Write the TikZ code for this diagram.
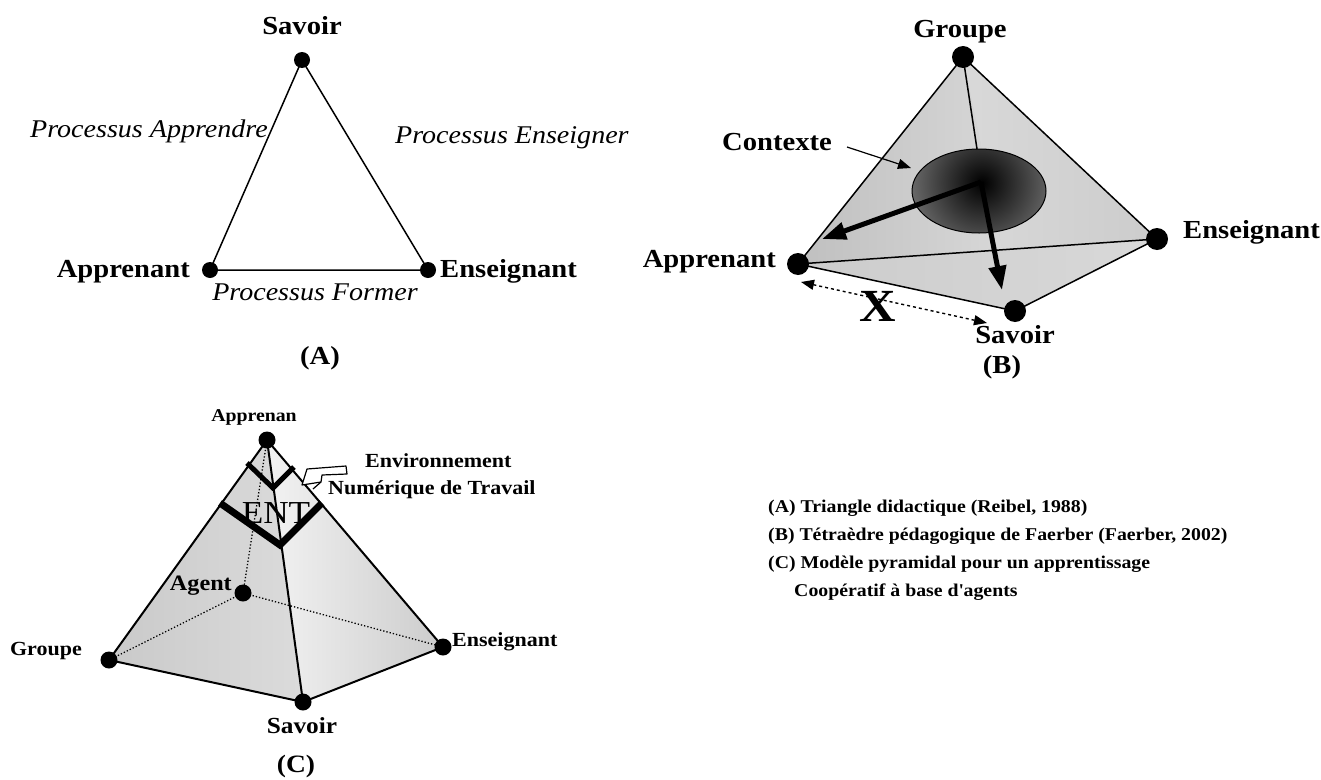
\documentclass[tikz,border=0pt]{standalone}
\usepackage{fontspec}
\setmainfont{Liberation Serif}[FakeStretch=1.1]
\usetikzlibrary{arrows.meta,calc}
\begin{document}
\begin{tikzpicture}[x=1pt,y=-1pt,
  dotA/.style={circle,fill=black,inner sep=0pt,minimum size=16pt},
  dotB/.style={circle,fill=black,inner sep=0pt,minimum size=22pt},
  dotC/.style={circle,fill=black,inner sep=0pt,minimum size=17pt},
  lblA/.style={font=\fontsize{26}{32}\selectfont\bfseries,inner sep=0pt},
  itl/.style={font=\fontsize{25.5}{32}\selectfont\itshape,inner sep=0pt},
  lblC/.style={font=\fontsize{20}{24}\selectfont\bfseries,inner sep=0pt},
  legendtext/.style={font=\fontsize{18}{24}\selectfont\bfseries,inner sep=0pt,anchor=base west},
  edge/.style={line width=1.5pt,line join=round},
  thickarrow/.style={line width=5pt,-{Triangle[length=24pt,width=17pt]}},
]
\useasboundingbox (0,0) rectangle (1321,779);

%%%%%%%%%%%%%%%% (A)
\coordinate (AS) at (302,60);
\coordinate (AA) at (210,270);
\coordinate (AE) at (428,270);
\draw[edge] (AS) -- (AA) -- (AE) -- cycle;
\node[dotA] (aS) at (AS) {};
\node[dotA] (aA) at (AA) {};
\node[dotA] (aE) at (AE) {};
\node[lblA,anchor=base] (aSl) at (302,34) {Savoir};
\node[lblA,anchor=base east] (aAl) at (190,277) {Apprenant};
\node[lblA,anchor=base west] (aEl) at (440,277) {Enseignant};
\node[itl,anchor=base east] (p1) at (268,137) {Processus Apprendre};
\node[itl,anchor=base west] (p2) at (395,143) {Processus Enseigner};
\node[itl,anchor=base] (p3) at (315,300) {Processus Former};
\node[lblA,anchor=base] (capA) at (320,364) {(A)};

%%%%%%%%%%%%%%%% (B)
\coordinate (BG) at (963,57);
\coordinate (BE) at (1157,239);
\coordinate (BA) at (798,264);
\coordinate (BS) at (1015,311);
\fill[gray!35] (BG) -- (BE) -- (BS) -- (BA) -- cycle;
\shade[left color=gray!50,middle color=white!92!gray,right color=gray!30] (BG) -- (BA) -- (BS) -- cycle;
\shade[left color=gray!30,middle color=white!95!gray,right color=gray!40] (BG) -- (BS) -- (BE) -- cycle;
\shade[left color=gray!40,right color=gray!30] (BA) -- (BS) -- (BE) -- cycle;
% context ellipse
\begin{scope}
\clip (979,191) ellipse [x radius=67,y radius=42];
\shade[inner color=black,outer color=black!48] (982,183) circle [radius=90];
\end{scope}
\draw[line width=1pt] (979,191) ellipse [x radius=67,y radius=42];
\coordinate (Etop) at (977,149);
\coordinate (Ctr) at (981,182);
\draw[edge] (BG) -- (Etop);
\draw[edge] (BG) -- (BA) -- (BS) -- (BE) -- cycle;
\draw[edge] (BA) -- (BE);
\coordinate (tipA) at (822,239);
\coordinate (tipS) at (1002,290);
\draw[thickarrow] (Ctr) -- (tipA);
\draw[thickarrow] (Ctr) -- (tipS);
\node[dotB] (bG) at (BG) {};
\node[dotB] (bE) at (BE) {};
\node[dotB] (bA) at (BA) {};
\node[dotB] (bS) at (BS) {};
\node[lblA,anchor=base] (bGl) at (960,37) {Groupe};
\node[lblA,anchor=base west] (bEl) at (1183,238) {Enseignant};
\node[lblA,anchor=base east] (bAl) at (776,267) {Apprenant};
\node[lblA,anchor=base] (bSl) at (1015,343) {Savoir};
\node[lblA,anchor=base] (capB) at (1002,373) {(B)};
\node[lblA,anchor=base] (ctx) at (777,150) {Contexte};
\coordinate (ctxs) at (847,147);
\coordinate (ctxe) at (911,168);
\draw[line width=1.2pt,-{Triangle[length=13pt,width=10pt]}] (ctxs) -- (ctxe);
\coordinate (xs) at (801,282);
\coordinate (xe) at (987,323);
\draw[line width=1.4pt,dashed,{Triangle[length=13pt,width=10pt]}-{Triangle[length=13pt,width=10pt]}] (xs) -- (xe);
\node[font=\fontsize{46}{50}\selectfont\bfseries,inner sep=0pt] (X) at (878,306) {X};

%%%%%%%%%%%%%%%% (C)
\coordinate (CP) at (267,440);
\coordinate (CG) at (109,660);
\coordinate (CS) at (303,702);
\coordinate (CE) at (443,647);
\coordinate (CA) at (243,593);
\shade[left color=gray!42,middle color=white!93!gray,right color=gray!28] (CP) -- (CG) -- (CS) -- cycle;
\shade[left color=white!90!gray,right color=gray!40] (CP) -- (CS) -- (CE) -- cycle;
\draw[line width=1.3pt,dotted] (CP) -- (CA);
\draw[line width=1.3pt,dotted] (CA) -- (CG);
\draw[line width=1.3pt,dotted] (CA) -- (CE);
\draw[line width=2pt,line join=round] (CP) -- (CG) -- (CS) -- (CE) -- cycle;
\draw[line width=2pt] (CP) -- (CS);
% ENT bands
\draw[line width=5pt] (247,463) -- (273,488) -- (294,467);
\draw[line width=7pt] (220,503) -- (280,545) -- (322,503);
\node[font=\fontsize{32}{36}\selectfont,inner sep=0pt,anchor=base] (ent) at (276,523) {ENT};
% callout
\draw[line width=1.2pt,fill=white,line join=round] (307,469) -- (346,466) -- (347,474) -- (322,475) -- (321,482) -- (302,485) -- cycle;
\draw[line width=1.2pt] (321,482) -- (313,489);
\node[dotC] (cP) at (CP) {};
\node[dotC] (cG) at (CG) {};
\node[dotC] (cS) at (CS) {};
\node[dotC] (cE) at (CE) {};
\node[dotC] (cA) at (CA) {};
\node[lblC,font=\fontsize{18}{20}\selectfont\bfseries,anchor=base] (cPl) at (254,421) {Apprenan};
\node[lblC,anchor=base west] (env1) at (365,467) {Environnement};
\node[lblC,anchor=base west] (env2) at (328,494) {Numérique de Travail};
\node[lblC,font=\fontsize{22}{24}\selectfont\bfseries,anchor=base east] (cAl) at (232,590) {Agent};
\node[lblC,anchor=base east] (cGl) at (82,655) {Groupe};
\node[lblC,anchor=base west] (cEl) at (452,646) {Enseignant};
\node[lblC,font=\fontsize{23}{26}\selectfont\bfseries,anchor=base] (cSl) at (302,733) {Savoir};
\node[lblC,font=\fontsize{25}{28}\selectfont\bfseries,anchor=base] (capC) at (296,772) {(C)};

%%%%%%%%%%%%%%%% legend
\node[legendtext] (l1) at (768,512) {(A) Triangle didactique (Reibel, 1988)};
\node[legendtext] (l2) at (768,540) {(B) Tétraèdre pédagogique de Faerber (Faerber, 2002)};
\node[legendtext] (l3) at (768,568) {(C) Modèle pyramidal pour un apprentissage};
\node[legendtext] (l4) at (794,596) {Coopératif à base d\textquotesingle agents};
\end{tikzpicture}
\end{document}
